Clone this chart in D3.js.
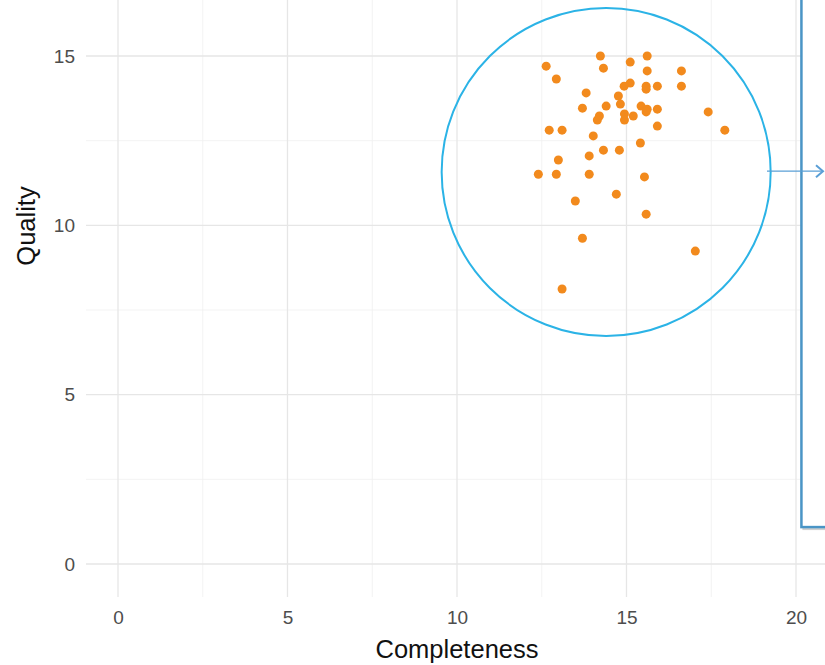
<!DOCTYPE html>
<html><head><meta charset="utf-8">
<script src="https://cdn.jsdelivr.net/npm/d3@7"></script>
<style>body{margin:0;background:#fff;}svg{display:block;}</style>
</head><body>
<svg id="chart" width="825" height="665"></svg>
<script>
const completeness = [12.63,12.93,14.23,14.32,15.11,15.61,15.61,16.62,16.62,15.91,15.58,15.58,15.11,14.93,13.81,14.76,14.82,14.40,13.70,14.20,14.14,14.94,14.94,15.20,15.43,15.61,15.58,15.91,17.41,12.72,13.10,14.02,15.91,17.90,15.41,14.32,14.79,13.90,12.99,12.40,12.93,13.90,15.53,14.70,13.49,15.58,13.70,17.03,13.10];
const quality      = [14.70,14.32,15.00,14.64,14.82,15.00,14.56,14.56,14.11,14.11,14.11,14.02,14.20,14.11,13.91,13.82,13.58,13.52,13.46,13.23,13.11,13.29,13.11,13.23,13.52,13.43,13.35,13.43,13.35,12.81,12.81,12.64,12.93,12.81,12.43,12.22,12.22,12.05,11.93,11.51,11.51,11.51,11.43,10.92,10.72,10.33,9.62,9.24,8.12];
const xTicks = [0,5,10,15,20];
const yTicks = [0,5,10,15];
const xMinor = [2.5,7.5,12.5,17.5];
const yMinor = [2.5,7.5,12.5];

const svg = d3.select("#chart");
const x = d3.scaleLinear().domain([0,20]).range([118,796]);
const y = d3.scaleLinear().domain([0,15]).range([564,56]);
const pLeft = 86, pRight = 825, pTop = 0, pBottom = 597;
const FONT = "Liberation Sans, Arial, sans-serif";

const g = svg.append("g");
g.selectAll(".vmin").data(xMinor).enter().append("line")
  .attr("x1",d=>x(d)).attr("x2",d=>x(d)).attr("y1",pTop).attr("y2",pBottom)
  .attr("stroke","#f0f0f0").attr("stroke-width",0.8);
g.selectAll(".hmin").data(yMinor).enter().append("line")
  .attr("y1",d=>y(d)).attr("y2",d=>y(d)).attr("x1",pLeft).attr("x2",pRight)
  .attr("stroke","#f0f0f0").attr("stroke-width",0.8);
g.selectAll(".vmaj").data(xTicks).enter().append("line")
  .attr("x1",d=>x(d)).attr("x2",d=>x(d)).attr("y1",pTop).attr("y2",pBottom)
  .attr("stroke","#e6e6e6").attr("stroke-width",1.3);
g.selectAll(".hmaj").data(yTicks).enter().append("line")
  .attr("y1",d=>y(d)).attr("y2",d=>y(d)).attr("x1",pLeft).attr("x2",pRight)
  .attr("stroke","#e6e6e6").attr("stroke-width",1.3);

const xAxis = d3.axisBottom(x).tickValues(xTicks).tickSize(0).tickPadding(0);
const xa = svg.append("g").attr("transform",`translate(0,${pBottom+27})`).call(xAxis);
xa.select(".domain").remove();
xa.selectAll("text").attr("font-family",FONT).attr("font-size",19).attr("fill","#4d4d4d").attr("dy",0);
const yAxis = d3.axisLeft(y).tickValues(yTicks).tickSize(0).tickPadding(0);
const ya = svg.append("g").attr("transform",`translate(${pLeft-11},0)`).call(yAxis);
ya.select(".domain").remove();
ya.selectAll("text").attr("font-family",FONT).attr("font-size",19).attr("fill","#4d4d4d");

svg.append("text").attr("x",457).attr("y",658).attr("text-anchor","middle")
  .attr("font-family",FONT).attr("font-size",25.5).attr("fill","#111").text("Completeness");
svg.append("text").attr("transform","translate(35,226) rotate(-90)").attr("text-anchor","middle")
  .attr("font-family",FONT).attr("font-size",25.5).attr("fill","#111").text("Quality");

const rx0 = x(20.16), ry1 = y(1.09);
svg.append("rect").attr("x",rx0+2).attr("y",-10).attr("width",60).attr("height",ry1+12)
  .attr("fill","none").attr("stroke","#d0d0d0").attr("stroke-width",2);
svg.append("rect").attr("x",rx0).attr("y",-10).attr("width",60).attr("height",ry1+10)
  .attr("fill","#fff").attr("stroke","#4a95c6").attr("stroke-width",2.5);

svg.append("g").selectAll("circle").data(completeness.map((c,i)=>[c,quality[i]])).enter().append("circle")
  .attr("cx",d=>x(d[0])).attr("cy",d=>y(d[1])).attr("r",4.5).attr("fill","#f28a1d");

svg.append("ellipse").attr("cx",x(14.4)).attr("cy",y(11.575)).attr("rx",164.5).attr("ry",164)
  .attr("fill","none").attr("stroke","#2bb3e6").attr("stroke-width",2);

const ay = y(11.6);
svg.append("line").attr("x1",767).attr("x2",823).attr("y1",ay).attr("y2",ay)
  .attr("stroke","#5a9fd6").attr("stroke-width",1.2);
svg.append("path").attr("d",`M816,${ay-6} L823,${ay} L816,${ay+6}`)
  .attr("fill","none").attr("stroke","#5a9fd6").attr("stroke-width",2);
</script>
</body></html>
